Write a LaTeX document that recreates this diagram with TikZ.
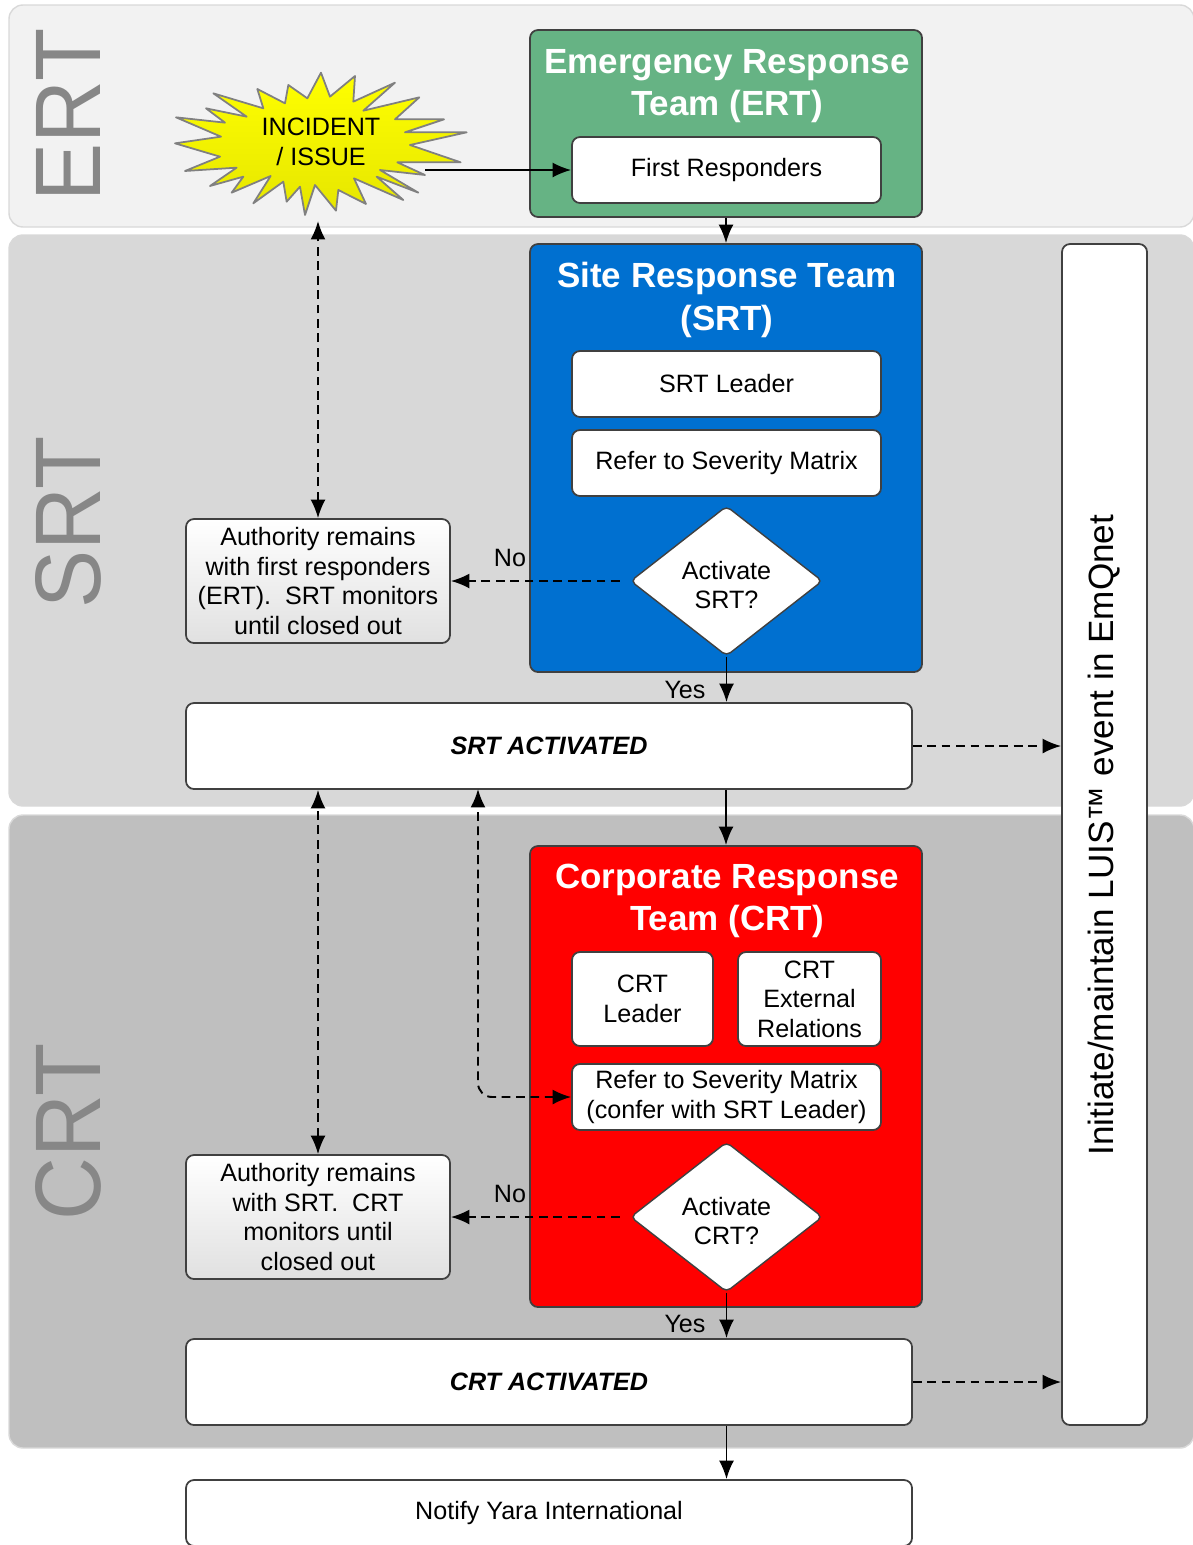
\documentclass[tikz,border=0pt]{standalone}
\usepackage{fontspec}
\setmainfont{Liberation Sans}
\usetikzlibrary{arrows.meta}
\usetikzlibrary{shapes.geometric}
\tikzset{>={Latex[width=8.5pt,length=10.5pt]}}
\definecolor{ertband}{HTML}{F2F2F2}
\definecolor{srtband}{HTML}{D8D8D8}
\definecolor{crtband}{HTML}{BFBFBF}
\definecolor{ertgreen}{HTML}{66B384}
\definecolor{srtblue}{HTML}{0070D0}
\definecolor{edgegray}{HTML}{404040}
\def\u{0.02cm}
\tikzset{
  band/.style={rounded corners=14*\u,draw=black!15,line width=0.8pt},
  bandlabel/.style={text=black!47,font=\fontsize{53}{53}\selectfont,rotate=90,yscale=1,xscale=0.935},
  teambox/.style={draw=edgegray,line width=1pt,rounded corners=8*\u,inner sep=0pt},
  stepbox/.style={teambox,fill=white,align=center,font=\fontsize{14.3}{16.8}\selectfont},
  authbox/.style={stepbox,top color=white,bottom color=black!12},
  title/.style={text=white,align=center,font=\fontsize{19.9}{24}\bfseries\selectfont},
  decision/.style={diamond,fill=white,draw=edgegray,line width=0.8pt,rounded corners=5*\u,aspect=1.28,inner sep=0pt,minimum width=192*\u,minimum height=150*\u},
  flow/.style={->,line width=1.1pt,black},
  dashflow/.style={flow,dash pattern=on 5pt off 3.2pt},
  lab/.style={font=\fontsize{14.3}{16.8}\selectfont}
}

\begin{document}
\begin{tikzpicture}[x=0.02cm,y=-0.02cm]

  \useasboundingbox (0,0) rectangle (1193,1545);
  \clip (0,0) rectangle (1193,1545);

  % bands
  \draw[band,fill=ertband] (9,5) rectangle (1194,227);
  \draw[band,fill=srtband] (9,235) rectangle (1194,806);
  \draw[band,fill=crtband] (9,815) rectangle (1194,1448);
  \node[bandlabel] (ertlabel) at (68,115) {ERT};
  \node[bandlabel] (srtlabel) at (68,522.5) {SRT};
  \node[bandlabel] (crtlabel) at (68,1131.5) {CRT};

  % team boxes
  \node[teambox,fill=ertgreen,minimum width=392*\u,minimum height=187*\u] (ert) at (726,123.5) {};
  \node[teambox,fill=srtblue,minimum width=392*\u,minimum height=428*\u] (srt) at (726,458) {};
  \node[teambox,fill=red,minimum width=392*\u,minimum height=461*\u] (crt) at (726,1076.5) {};
  \node[title] (erttitle) at (727,86) {Emergency Response\\Team (ERT)};
  \node[title] (srttitle) at (727,300) {Site Response Team\\(SRT)};
  \node[title] (crttitle) at (727,901) {Corporate Response\\Team (CRT)};

  % star
  \begin{scope}[shift={(150,0)},x=0.02cm/3,y=-0.02cm/3]
    \draw[draw=black!50,line width=1pt,line join=round,top color=yellow,bottom color=yellow!90!black]
      (513,218) -- (540,290) -- (615,228) -- (610,305) -- (735,248) -- (640,332) -- (808,292)
      -- (735,358) -- (882,358) -- (765,397) -- (950,397) -- (780,435) -- (932,487) -- (742,487)
      -- (825,525) -- (690,510) -- (805,578) -- (680,530) -- (760,600) -- (612,535) -- (648,612)
      -- (565,570) -- (558,632) -- (495,555) -- (465,645) -- (450,560) -- (410,605) -- (400,545)
      -- (310,610) -- (362,528) -- (245,578) -- (280,530) -- (180,558) -- (260,503) -- (105,513)
      -- (210,470) -- (75,430) -- (213,410) -- (78,352) -- (225,368) -- (168,325) -- (290,350)
      -- (190,280) -- (340,325) -- (322,267) -- (405,310) -- (415,255) -- (472,295) -- cycle;
  \end{scope}
  \node[lab,align=center] (incident) at (321,142) {INCIDENT\\/ ISSUE};
  \coordinate (starright) at (425,170);
  \coordinate (starbottom) at (318,221);

  % steps
  \node[stepbox,minimum width=309*\u,minimum height=66*\u] (first) at (726.5,170) {First Responders};
  \node[stepbox,minimum width=309*\u,minimum height=66*\u] (srtlead) at (726.5,384) {SRT Leader};
  \node[stepbox,minimum width=309*\u,minimum height=66*\u] (srtrefer) at (726.5,463) {Refer to Severity Matrix};
  \node[decision] (srtq) at (726.5,581) {};
  \node[lab,align=center] (srtqtext) at (726.5,585) {Activate\\SRT?};
  \node[authbox,minimum width=264*\u,minimum height=124*\u] (srtauth) at (318,581) {Authority remains\\with first responders\\(ERT).\ \ SRT monitors\\until closed out};
  \node[stepbox,minimum width=726*\u,minimum height=86*\u] (srtact) at (549,746) {\itshape\bfseries SRT ACTIVATED};

  \node[stepbox,minimum width=141*\u,minimum height=94*\u] (crtlead) at (642.5,999) {CRT\\Leader};
  \node[stepbox,minimum width=143*\u,minimum height=94*\u] (crtext) at (809.5,999) {CRT\\External\\Relations};
  \node[stepbox,minimum width=309*\u,minimum height=66*\u] (crtrefer) at (726.5,1097) {Refer to Severity Matrix\\(confer with SRT Leader)};
  \node[decision] (crtq) at (726.5,1217) {};
  \node[lab,align=center] (crtqtext) at (726.5,1221) {Activate\\CRT?};
  \node[authbox,minimum width=264*\u,minimum height=124*\u] (crtauth) at (318,1217) {Authority remains\\with SRT.\ \ CRT\\monitors until\\closed out};
  \node[stepbox,minimum width=726*\u,minimum height=86*\u] (crtact) at (549,1382) {\itshape\bfseries CRT ACTIVATED};

  \node[stepbox,minimum width=726*\u,minimum height=66*\u] (notify) at (549,1513) {Notify Yara International};
  \node[teambox,fill=white,minimum width=85*\u,minimum height=1181*\u] (luis) at (1104.5,834.5) {};
  \node[rotate=90,font=\fontsize{20}{22}\selectfont] (luistext) at (1104.5,835) {Initiate/maintain LUIS\texttrademark\ event in EmQnet};

  % connectors
  \draw[flow] (starright) -- (first.west);
  \draw[flow] (ert.south) -- (srt.north);
  \draw[flow] (srtq.south) -- (srtq.south |- srtact.north);
  \draw[flow] (srtact.south -| crt.north) -- (crt.north);
  \draw[flow] (crtq.south) -- (crtq.south |- crtact.north);
  \draw[flow] (crtact.south -| crtq.south) -- (crtq.south |- notify.north);

  \draw[dashflow,<->] (srtauth.north) -- (starbottom);
  \draw[dashflow,shorten <=10*\u] (srtq.west) -- (srtauth.east);
  \draw[dashflow,<->] (crtauth.north) -- (crtauth.north |- srtact.south);
  \draw[dashflow,shorten <=10*\u] (crtq.west) -- (crtauth.east);
  \draw[dashflow,<->,rounded corners=14*\u] (crtrefer.west) -| (478,789);
  \draw[dashflow] (srtact.east) -- (srtact.east -| luis.west);
  \draw[dashflow] (crtact.east) -- (crtact.east -| luis.west);

  % labels
  \node[lab] (srtno) at (510,558) {No};
  \node[lab] (srtyes) at (685,690) {Yes};
  \node[lab] (crtno) at (510,1194) {No};
  \node[lab] (crtyes) at (685,1324) {Yes};

\end{tikzpicture}
\end{document}
